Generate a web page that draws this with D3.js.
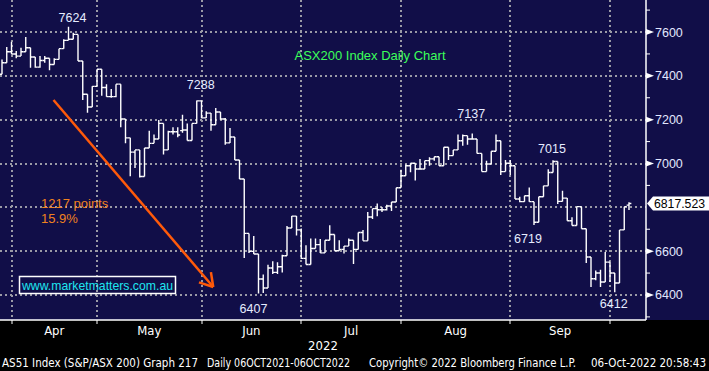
<!DOCTYPE html>
<html>
<head>
<meta charset="utf-8">
<script src="https://cdn.jsdelivr.net/npm/d3@7"></script>
<style>
  html, body { margin: 0; padding: 0; background: #000; }
  svg { display: block; }
</style>
</head>
<body>
<div class="canvas"></div>
<script>
// ASX trading days shown on the chart (Sep 22 closed)
const tradingDays = [
  ["2022-03", [29, 30, 31]],
  ["2022-04", [1, 4, 5, 6, 7, 8, 11, 12, 13, 14, 19, 20, 21, 22, 26, 27, 28, 29]],
  ["2022-05", [2, 3, 4, 5, 6, 9, 10, 11, 12, 13, 16, 17, 18, 19, 20, 23, 24, 25, 26, 27, 30, 31]],
  ["2022-06", [1, 2, 3, 6, 7, 8, 9, 10, 14, 15, 16, 17, 20, 21, 22, 23, 24, 27, 28, 29, 30]],
  ["2022-07", [1, 4, 5, 6, 7, 8, 11, 12, 13, 14, 15, 18, 19, 20, 21, 22, 25, 26, 27, 28, 29]],
  ["2022-08", [1, 2, 3, 4, 5, 8, 9, 10, 11, 12, 15, 16, 17, 18, 19, 22, 23, 24, 25, 26, 29, 30, 31]],
  ["2022-09", [1, 2, 5, 6, 7, 8, 9, 12, 13, 14, 15, 16, 19, 20, 21, 23, 26, 27, 28, 29, 30]],
  ["2022-10", [3, 4, 5, 6]]
];

const open = [
  7407, 7460, 7510, 7500, 7490, 7510, 7528, 7486, 7440, 7470, 7480, 7452, 7475, 7524, 7562, 7567, 7589, 7468, 7316, 7258,
  7352, 7430, 7347, 7305, 7305, 7362, 7203, 7117, 7052, 7062, 6941, 7071, 7092, 7112, 7183, 7062, 7145, 7145, 7150, 7153,
  7105, 7183, 7286, 7208, 7230, 7177, 7235, 7203, 7094, 7121, 7016, 6929, 6681, 6599, 6587, 6473, 6432, 6523, 6503, 6529,
  6579, 6706, 6760, 6697, 6567, 6539, 6612, 6630, 6592, 6650, 6676, 6602, 6608, 6623, 6650, 6608, 6685, 6647, 6756, 6794,
  6789, 6789, 6806, 6824, 6889, 6944, 6990, 7001, 6975, 6975, 7013, 7021, 7031, 6990, 7074, 7036, 7062, 7104, 7127, 7112,
  7112, 7046, 6963, 6998, 7056, 7104, 6963, 7001, 6990, 6838, 6826, 6853, 6826, 6732, 6848, 6898, 6959, 7009, 6827, 6842,
  6739, 6717, 6803, 6702, 6573, 6474, 6500, 6459, 6550, 6500, 6455, 6697, 6810
];
const high = [
  7475, 7532, 7556, 7513, 7528, 7577, 7528, 7486, 7490, 7490, 7480, 7480, 7524, 7567, 7624, 7597, 7589, 7468, 7316, 7352,
  7430, 7430, 7362, 7340, 7362, 7362, 7203, 7117, 7062, 7062, 7071, 7150, 7132, 7198, 7183, 7150, 7165, 7165, 7223, 7183,
  7183, 7288, 7287, 7238, 7230, 7253, 7235, 7208, 7162, 7121, 7016, 6929, 6681, 6669, 6587, 6493, 6538, 6554, 6549, 6584,
  6715, 6760, 6760, 6703, 6627, 6658, 6658, 6655, 6650, 6718, 6676, 6650, 6623, 6658, 6650, 6685, 6696, 6779, 6794, 6817,
  6802, 6812, 6824, 6889, 6971, 6995, 7001, 7001, 7021, 7013, 7028, 7031, 7031, 7074, 7074, 7062, 7132, 7132, 7127, 7137,
  7112, 7046, 7013, 7056, 7132, 7104, 7016, 7016, 6990, 6848, 6853, 6891, 6826, 6848, 6898, 6974, 7015, 7009, 6876, 6842,
  6755, 6803, 6803, 6702, 6573, 6512, 6515, 6596, 6550, 6500, 6697, 6803, 6823
];
const low = [
  7407, 7460, 7498, 7480, 7490, 7510, 7437, 7437, 7437, 7460, 7425, 7452, 7475, 7524, 7562, 7567, 7468, 7290, 7232, 7258,
  7352, 7309, 7305, 7300, 7302, 7165, 7092, 6942, 6979, 6936, 6941, 7071, 7092, 7112, 7041, 7062, 7132, 7120, 7140, 7105,
  7105, 7183, 7206, 7208, 7150, 7177, 7200, 7086, 7094, 7016, 6929, 6569, 6592, 6587, 6407, 6409, 6432, 6496, 6496, 6503,
  6579, 6706, 6671, 6564, 6539, 6539, 6612, 6592, 6592, 6650, 6602, 6602, 6589, 6623, 6541, 6608, 6647, 6647, 6747, 6759,
  6779, 6786, 6783, 6824, 6889, 6944, 6960, 6922, 6975, 6975, 6990, 7013, 6990, 6990, 7016, 7036, 7062, 7081, 7086, 7112,
  7046, 6963, 6963, 6998, 7056, 6948, 6963, 6948, 6838, 6823, 6826, 6826, 6719, 6732, 6848, 6898, 6959, 6815, 6827, 6739,
  6717, 6717, 6702, 6546, 6436, 6467, 6436, 6459, 6459, 6412, 6455, 6697, 6788
];
const close = [
  7460, 7510, 7500, 7490, 7510, 7528, 7486, 7440, 7470, 7480, 7452, 7475, 7524, 7562, 7567, 7589, 7468, 7316, 7258, 7352,
  7430, 7347, 7305, 7305, 7362, 7203, 7117, 7052, 7062, 6941, 7071, 7092, 7112, 7183, 7062, 7145, 7145, 7130, 7153, 7105,
  7183, 7286, 7208, 7230, 7177, 7235, 7203, 7094, 7121, 7016, 6929, 6681, 6599, 6587, 6473, 6432, 6523, 6503, 6529, 6579,
  6706, 6760, 6697, 6567, 6539, 6612, 6630, 6592, 6650, 6676, 6602, 6608, 6623, 6650, 6608, 6685, 6647, 6756, 6794, 6789,
  6789, 6806, 6824, 6889, 6944, 6990, 7001, 6975, 6975, 7013, 7021, 7031, 6990, 7074, 7036, 7062, 7104, 7127, 7112, 7112,
  7046, 6963, 6998, 7056, 7104, 6963, 7001, 6990, 6838, 6826, 6853, 6826, 6732, 6848, 6898, 6959, 7009, 6827, 6842, 6739,
  6717, 6803, 6702, 6573, 6474, 6500, 6459, 6550, 6500, 6455, 6697, 6803, 6817.523
];

const yMajor = [6400, 6600, 6800, 7000, 7200, 7400, 7600];
const yMinor = [6300, 6500, 6700, 6900, 7100, 7300, 7500, 7700];

// bar index + high/low for the value call-outs
const callouts = [
  { i: 14, side: "high" }, { i: 41, side: "high" }, { i: 99, side: "high" },
  { i: 116, side: "high" }, { i: 112, side: "low" }, { i: 54, side: "low" }, { i: 129, side: "low" }
];
const calloutOffsets = [[4, -5], [4, -11], [-1, -15], [-1, -7], [-6, 18], [-5, 19.5], [-1, 15.5]];

const title = "ASX200 Index Daily Chart";
const dropText = ["1217 points", "15.9%"];
const website = "www.marketmatters.com.au";
const footer = [
  "AS51 Index (S&P/ASX 200) Graph 217",
  "Daily 06OCT2021-06OCT2022",
  "Copyright\u00a9 2022 Bloomberg Finance L.P.",
  "06-Oct-2022 20:58:43"
];

const dates = tradingDays.flatMap(([m, days]) => days.map(d => new Date(`${m}-${String(d).padStart(2, "0")}T00:00:00`)));
const bars = dates.map((d, i) => ({ date: d, i, o: open[i], h: high[i], l: low[i], c: close[i] }));

const width = 709, height = 371;
const plotW = 646, plotH = 320;
const navy = "#110e48";
const numFont = "'Liberation Sans', Arial, sans-serif";
const narrowFont = "'Liberation Sans Narrow', 'DejaVu Sans Condensed', 'Liberation Sans', sans-serif";

const svg = d3.select(".canvas").append("svg")
  .attr("width", width)
  .attr("height", height)
  .style("background", "#000");

svg.append("rect")
  .attr("width", width).attr("height", plotH)
  .attr("fill", navy);

const x = d3.scaleLinear().domain([0, bars.length - 1]).range([2, 629]);
const y = d3.scaleLinear().domain([6300, 7700]).range([316.9, 10.1]);
const step = x(1) - x(0);

svg.append("clipPath").attr("id", "plot-clip")
  .append("rect").attr("width", plotW).attr("height", plotH);

const graph = svg.append("g").attr("clip-path", "url(#plot-clip)");

// month boundaries -> tick sits on last bar of previous month
const monthStarts = bars.filter((b, i) => i > 0 && b.date.getMonth() !== bars[i - 1].date.getMonth());
const monthTicks = monthStarts.map(b => b.i - 1);

// grid
graph.append("g").selectAll("line.h")
  .data(yMajor).enter().append("line")
  .attr("x1", 0).attr("x2", plotW)
  .attr("y1", d => Math.round(y(d))).attr("y2", d => Math.round(y(d)))
  .attr("stroke", "#9a9aa6").attr("stroke-width", 2).attr("stroke-dasharray", "2,3");

graph.append("g").selectAll("line.v")
  .data(monthTicks).enter().append("line")
  .attr("x1", d => Math.round(x(d))).attr("x2", d => Math.round(x(d)))
  .attr("y1", 0).attr("y2", plotH)
  .attr("stroke", "#9a9aa6").attr("stroke-width", 2).attr("stroke-dasharray", "2,3");

// OHLC bars
const barG = graph.append("g")
  .attr("stroke", "#fff").attr("stroke-width", 1.4).attr("fill", "none");

barG.selectAll("path")
  .data(bars).enter().append("path")
  .attr("d", d => {
    const cx = x(d.i);
    return `M${cx},${y(d.h)}V${y(d.l)}` +
      `M${cx - step / 2},${y(d.o)}H${cx}` +
      `M${cx},${y(d.c)}H${cx + step / 2}`;
  });

// axes
const last = bars[bars.length - 1];
const ly = y(last.c);
// the last-price flag hides the axis label it sits on
const shownMajor = yMajor.filter(d => Math.abs(y(d) - ly) > 10);

const yAxisGroup = svg.append("g").attr("transform", `translate(${plotW},0)`);
yAxisGroup.append("line").attr("y1", 0).attr("y2", plotH).attr("stroke", "#fff").attr("stroke-width", 1.5);

yAxisGroup.selectAll("line.minor")
  .data(yMinor).enter().append("line")
  .attr("x1", 0).attr("x2", 4)
  .attr("y1", d => y(d)).attr("y2", d => y(d))
  .attr("stroke", "#fff");

yAxisGroup.selectAll("path.tri")
  .data(shownMajor).enter().append("path")
  .attr("d", d => `M0,${y(d) - 3}L8,${y(d)}L0,${y(d) + 3}Z`)
  .attr("fill", "#fff");

yAxisGroup.selectAll("text")
  .data(shownMajor).enter().append("text")
  .attr("x", 9).attr("y", d => y(d) + 4.5)
  .attr("fill", "#e2e8ff")
  .attr("font-family", numFont).attr("font-size", 12.5)
  .text(d => d);

svg.append("line")
  .attr("x1", 0).attr("x2", plotW).attr("y1", plotH).attr("y2", plotH)
  .attr("stroke", "#fff").attr("stroke-width", 1.5);

svg.append("g").selectAll("line")
  .data(monthTicks).enter().append("line")
  .attr("x1", d => Math.round(x(d))).attr("x2", d => Math.round(x(d)))
  .attr("y1", plotH).attr("y2", plotH + 4)
  .attr("stroke", "#fff");

const fmtMonth = d3.timeFormat("%b");
svg.append("g").selectAll("text")
  .data(monthTicks.slice(0, -1)).enter().append("text")
  .attr("x", (d, k) => (x(d) + x(monthTicks[k + 1])) / 2)
  .attr("y", 335)
  .attr("text-anchor", "middle")
  .attr("fill", "#fff")
  .attr("font-family", narrowFont).attr("font-size", 13)
  .text((d, k) => fmtMonth(monthStarts[k].date));

svg.append("text")
  .attr("x", plotW / 2).attr("y", 350)
  .attr("text-anchor", "middle").attr("fill", "#fff")
  .attr("font-family", narrowFont).attr("font-size", 13)
  .text(d3.timeFormat("%Y")(last.date));

// last price flag
svg.append("path")
  .attr("d", `M${plotW + 1},${ly}L${plotW + 7},${ly - 7}H${width}V${ly + 7}H${plotW + 7}Z`)
  .attr("fill", "#fff");
svg.append("text")
  .attr("x", plotW + 8).attr("y", ly + 4.5)
  .attr("fill", "#000")
  .attr("font-family", numFont).attr("font-size", 12.5)
  .attr("textLength", 51).attr("lengthAdjust", "spacingAndGlyphs")
  .text(d3.format(".3f")(last.c));

// call-outs
svg.append("g").selectAll("text")
  .data(callouts).enter().append("text")
  .attr("x", (d, k) => x(d.i) + calloutOffsets[k][0])
  .attr("y", (d, k) => y(d.side === "high" ? high[d.i] : low[d.i]) + calloutOffsets[k][1])
  .attr("text-anchor", "middle")
  .attr("fill", "#e6ecff")
  .attr("font-family", numFont).attr("font-size", 12.5)
  .text(d => d.side === "high" ? high[d.i] : low[d.i]);

svg.append("text")
  .attr("x", 370).attr("y", 60)
  .attr("text-anchor", "middle").attr("fill", "#3cff5a")
  .attr("font-family", numFont).attr("font-size", 13)
  .text(title);

svg.append("g").selectAll("text")
  .data(dropText).enter().append("text")
  .attr("x", 41).attr("y", (d, k) => 208 + k * 15)
  .attr("fill", "#f0821e")
  .attr("font-family", numFont).attr("font-size", 13)
  .text(d => d);

// orange arrow from the April high toward the June low
const arrowStart = [x(14) - 15, y(7290)];
const arrowEnd = [x(43) + 7, y(6400) - 8];
const arrow = svg.append("g").attr("stroke", "#ff5a0a").attr("stroke-width", 2.5).attr("fill", "none");
arrow.append("line")
  .attr("x1", arrowStart[0]).attr("y1", arrowStart[1])
  .attr("x2", arrowEnd[0]).attr("y2", arrowEnd[1]);
const ang = Math.atan2(arrowEnd[1] - arrowStart[1], arrowEnd[0] - arrowStart[0]);
[0.55, -0.55].forEach(a => {
  arrow.append("line")
    .attr("x1", arrowEnd[0]).attr("y1", arrowEnd[1])
    .attr("x2", arrowEnd[0] - 15 * Math.cos(ang + a))
    .attr("y2", arrowEnd[1] - 15 * Math.sin(ang + a));
});

// website box
svg.append("rect")
  .attr("x", 19.5).attr("y", 276.5).attr("width", 156).attr("height", 17)
  .attr("fill", "none").attr("stroke", "#fff").attr("stroke-width", 1.5);
svg.append("text")
  .attr("x", 22).attr("y", 290)
  .attr("fill", "#1ee6f0")
  .attr("font-family", numFont).attr("font-size", 13)
  .attr("textLength", 151).attr("lengthAdjust", "spacingAndGlyphs")
  .text(website);

// footer
const footerX = [2, 207, 369, 591];
const footerW = [196, 143, 207, 115];
svg.append("g").selectAll("text")
  .data(footer).enter().append("text")
  .attr("x", (d, k) => footerX[k]).attr("y", 367)
  .attr("fill", "#fff")
  .attr("font-family", narrowFont).attr("font-size", 11.5)
  .attr("textLength", (d, k) => footerW[k]).attr("lengthAdjust", "spacingAndGlyphs")
  .text(d => d);
</script>
</body>
</html>
